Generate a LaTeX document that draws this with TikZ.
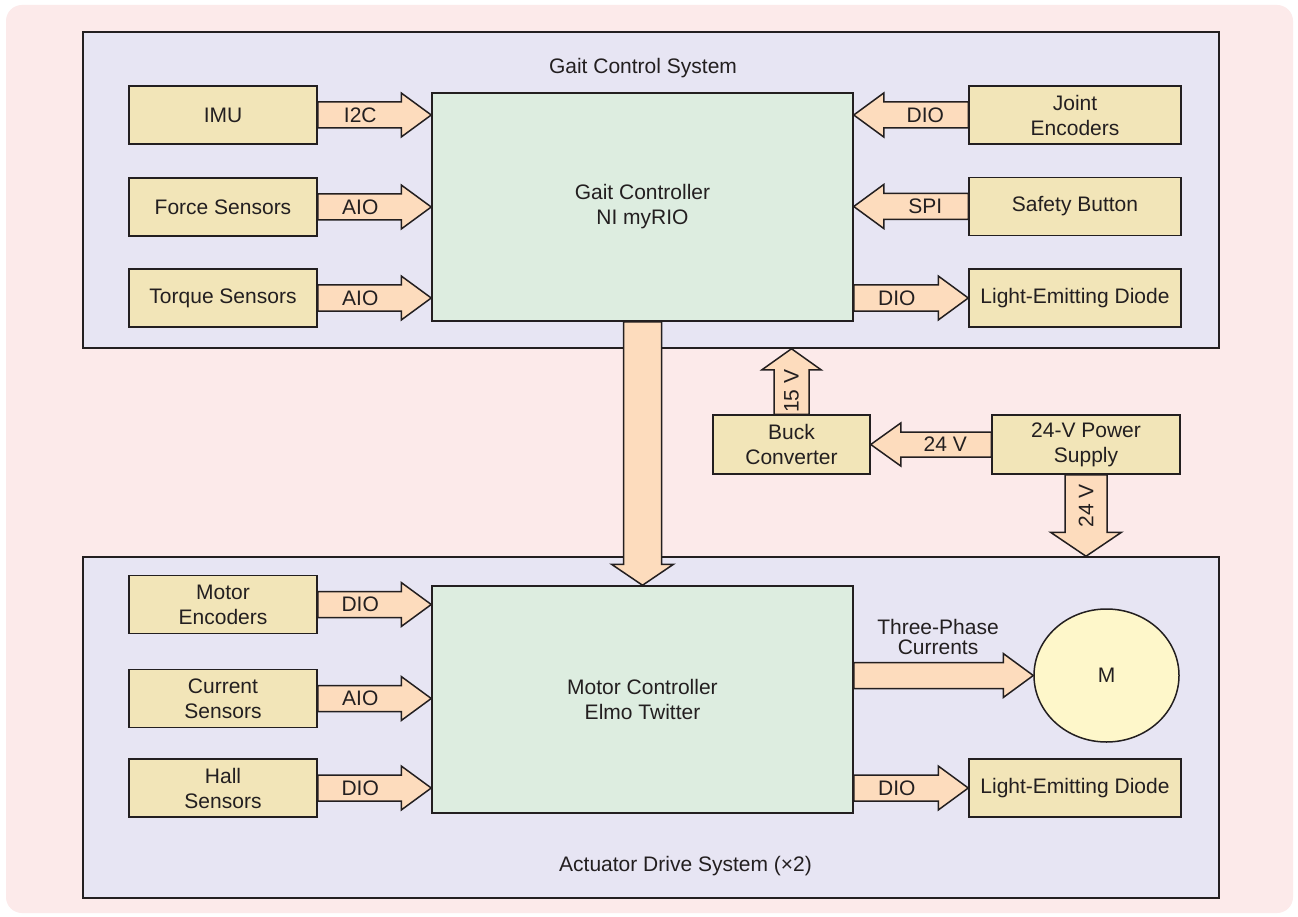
\documentclass[tikz,border=0pt]{standalone}
\usepackage{fontspec}
\setmainfont{Liberation Sans}
\usetikzlibrary{calc,shapes.geometric}

\definecolor{page}{HTML}{FCEAEA}
\definecolor{sysfill}{HTML}{E7E5F3}
\definecolor{unitfill}{HTML}{F2E5B8}
\definecolor{ctrlfill}{HTML}{DDEDE0}
\definecolor{busfill}{HTML}{FDDCBD}
\definecolor{motorfill}{HTML}{FEF7CA}
\definecolor{ink}{HTML}{231F20}

\tikzset{
  every node/.style={font=\fontsize{21}{25}\selectfont, text=ink},
  system/.style={draw=ink, fill=sysfill, line width=1.5pt},
  unit/.style={draw=ink, fill=unitfill, line width=1.5pt, align=center, inner sep=0pt},
  ctrl/.style={draw=ink, fill=ctrlfill, line width=1.5pt, align=center},
  tag/.style={inner sep=0pt},
  % wide block arrow, drawn along the straight line of a "to"
  bus shaft/.store in=\busshaft,
  bus head/.store in=\bushead,
  bus tip/.store in=\bustip,
  bus shaft=13pt, bus head=22pt, bus tip=30pt,
  bus frame/.style={shift={(\p1)}, rotate=\n1},
  bus/.style={draw=ink, fill=busfill, line width=1.5pt, line join=miter,
    to path={let \p1=(\tikztostart), \p2=(\tikztotarget),
      \n1={atan2(\y2-\y1,\x2-\x1)}, \n2={veclen(\x2-\x1,\y2-\y1)} in
      ([bus frame]0pt,\busshaft) -- ([bus frame]{\n2-\bustip},\busshaft)
      -- ([bus frame]{\n2-\bustip},\bushead) -- ([bus frame]{\n2},0pt)
      -- ([bus frame]{\n2-\bustip},-\bushead) -- ([bus frame]{\n2-\bustip},-\busshaft)
      -- ([bus frame]0pt,-\busshaft) -- cycle}},
}

\begin{document}
\begin{tikzpicture}[x=1pt,y=-1pt]
  \useasboundingbox (0,0) rectangle (1298,917);
  \fill[white] (0,0) rectangle (1298,917);
  \fill[page, rounded corners=16] (6,5) rectangle (1293,913);

  % gait control system
  \node[system, minimum width=1136, minimum height=316] (gcs) at (651,190) {};
  \node (gcs-title) at (643,68) {Gait Control System};
  \node[ctrl, minimum width=421, minimum height=228] (gait) at (642.5,207) {Gait Controller\\NI myRIO};
  \foreach \name/\y/\txt/\bus in {imu/115/IMU/I2C, force/207/Force Sensors/AIO, torque/298/Torque Sensors/AIO}
  {
      \node[unit, minimum width=188, minimum height=58] (\name) at (223,\y) {\txt};
      \draw[bus] (\name.east) to (\name.east -| gait.west);
      \node[tag] (\name-bus) at ($(\name.east)+(42.5,0)$) {\bus};
  }
  \foreach \name/\y/\txt/\bus in {joint/115/Joint\\Encoders/DIO, safety/206.5/Safety Button/SPI}
  {
      \node[unit, minimum width=212, minimum height=58] (\name) at (1075,\y) {\txt};
      \draw[bus] (\name.west) to (\name.west -| gait.east);
      \node[tag] (\name-bus) at ($(\name.west)+(-43,0)$) {\bus};
  }
  \node[unit, minimum width=212, minimum height=58] (ledtop) at (1075,298) {Light-Emitting Diode};
  \draw[bus] (ledtop.west -| gait.east) to (ledtop.west);
  \node[tag] (ledtop-bus) at ($(gait.east |- ledtop.west)+(43,0)$) {DIO};

  % actuator drive system
  \node[system, minimum width=1136, minimum height=341] (ads) at (651,727.5) {};
  \node (ads-title) at (685.5,866) {Actuator Drive System (×2)};
  \node[ctrl, minimum width=421, minimum height=227] (mc) at (642.5,699.5) {Motor Controller\\Elmo Twitter};
  \foreach \name/\y/\txt/\bus in {menc/604.5/Motor\\Encoders/DIO, cur/698.5/Current\\Sensors/AIO, hall/788/Hall\\Sensors/DIO}
  {
      \node[unit, minimum width=188, minimum height=58] (\name) at (223,\y) {\txt};
      \draw[bus] (\name.east) to (\name.east -| mc.west);
      \node[tag] (\name-bus) at ($(\name.east)+(42.5,0)$) {\bus};
  }
  \node[draw=ink, fill=motorfill, ellipse, line width=1.5pt, minimum width=145, minimum height=133, inner sep=0pt] (motor) at (1106.5,675.5) {M};
  \draw[bus] (motor.west -| mc.east) to (motor.west);
  \node[tag, align=center, font=\fontsize{21}{20}\selectfont] (phase) at (938,637) {Three-Phase\\Currents};
  \node[unit, minimum width=212, minimum height=58] (ledbot) at (1075,788) {Light-Emitting Diode};
  \draw[bus] (ledbot.west -| mc.east) to (ledbot.west);
  \node[tag] (ledbot-bus) at ($(mc.east |- ledbot.west)+(43,0)$) {DIO};

  % power
  \node[unit, minimum width=157, minimum height=59] (buck) at (791.5,444.5) {Buck\\Converter};
  \node[unit, minimum width=188, minimum height=59] (psu) at (1086,444.5) {24-V Power\\Supply};
  \draw[bus, bus shaft=12.5pt, bus head=21.5pt] (psu.west) to (buck.east);
  \node[tag] (psu-bus) at ($(psu.west)+(-46,0)$) {24 V};
  \draw[bus, bus shaft=17.5pt, bus head=29.5pt, bus tip=21pt] (buck.north) to (buck.north |- gcs.south);
  \node[tag, rotate=90] (buck-bus) at ($(buck.north)+(0,-23)$) {15 V};
  \draw[bus, bus shaft=21pt, bus head=35.5pt, bus tip=24pt] (psu.south) to (psu.south |- ads.north);
  \node[tag, rotate=90] (psu-down) at ($(psu.south)+(0,31)$) {24 V};

  % controller to drive
  \draw[bus, bus shaft=19pt, bus head=31pt, bus tip=21pt] (gait.south) to (gait.south |- mc.north);
\end{tikzpicture}
\end{document}
